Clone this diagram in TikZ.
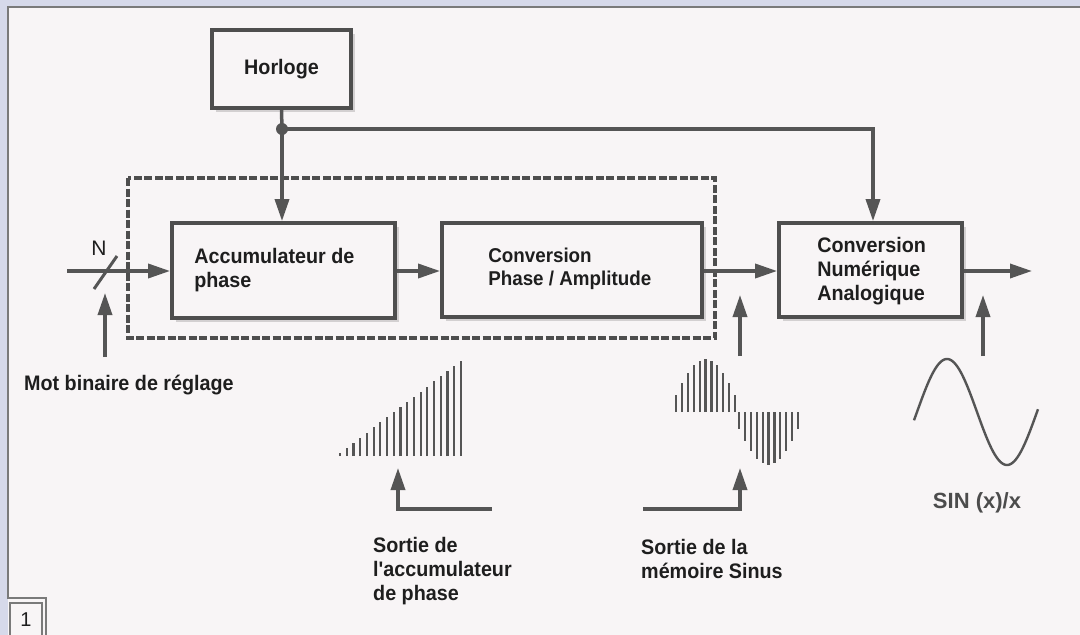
\documentclass[tikz,border=0pt]{standalone}
\usepackage{fontspec}
\setmainfont{Liberation Sans}
\newfontfamily\condf[FakeStretch=0.94]{Liberation Sans}
\usetikzlibrary{arrows.meta,shadows}
\definecolor{ln}{HTML}{555555}
\definecolor{bx}{HTML}{4E4E4E}
\definecolor{bg}{HTML}{F8F5F6}
\definecolor{lav}{HTML}{D6D9EA}
\definecolor{frm}{HTML}{7A7A7A}
\definecolor{txt}{HTML}{1E1E1E}
\begin{document}
\begin{tikzpicture}[x=1pt,y=-1pt,
  blk/.style={draw=bx, line width=3.8pt, fill=bg,
    drop shadow={shadow xshift=4pt, shadow yshift=-4pt, opacity=0.15, fill=black}},
  conn/.style={draw=ln, line width=3.5pt},
  arr/.style={conn, -{Triangle[length=22pt,width=14pt]}},
  lbl/.style={text=txt, font=\condf\fontsize{21}{24}\selectfont\bfseries, align=left, inner sep=0pt},
  bar/.style={draw=ln, line width=2.2pt},
  dashbox/.style={draw=bx, line width=4.5pt, dash pattern=on 8pt off 2.5pt}
]
\useasboundingbox (0,0) rectangle (1080,635);
% background and frame
\fill[lav] (0,0) rectangle (1080,635);
\fill[bg] (8,7) rectangle (1080,635);
\draw[frm, line width=1.2pt] (1080,7) -- (8,7) -- (8,598) -- (46,598) -- (46,635);
\draw[frm, line width=1.2pt] (10,636) -- (10,603) -- (42,603) -- (42,636);
\node[text=txt, font=\fontsize{20}{22}\selectfont] (fig) at (26,620) {1};

% dashed group
\draw[dashbox] (128,178) rectangle (715,338);

% blocks
\node[blk, minimum width=139pt, minimum height=78pt] (horloge) at (281.5,69) {};
\node[lbl] (horlogeT) at (horloge.center) {Horloge};
\node[blk, minimum width=223pt, minimum height=95pt] (accum) at (283.5,270.5) {};
\node[lbl, anchor=west] (accumT) at ([xshift=24pt]accum.west) {Accumulateur de\\phase};
\node[blk, minimum width=260pt, minimum height=94pt] (conv) at (572,270) {};
\node[lbl, anchor=west, font=\condf\fontsize{20}{23}\selectfont\bfseries] (convT) at ([xshift=48pt,yshift=1pt]conv.west) {Conversion\\Phase / Amplitude};
\node[blk, minimum width=183pt, minimum height=94pt] (cna) at (870.5,270) {};
\node[lbl, anchor=west] (cnaT) at ([xshift=40pt,yshift=-1pt]cna.west) {Conversion\\Numérique\\Analogique};

% clock distribution
\coordinate (dot) at (282,129);
\draw[conn] (horloge.south) -- (dot);
\draw[arr] (dot) -- (dot |- accum.north);
\coordinate (cnaIn) at (873,0);
\draw[arr] (dot) -| (cnaIn |- cna.north);
\fill[ln] (dot) circle (6pt);

% input
\coordinate (in) at (67,271);
\draw[arr] (in) -- (accum.west |- in);
\coordinate (sl1) at (94,289);
\coordinate (sl2) at (117,256);
\draw[conn, line width=3pt] (sl1) -- (sl2);
\node[text=txt, font=\fontsize{21}{22}\selectfont] (N) at (99,248) {N};
\coordinate (motA) at (105,357);
\coordinate (motT) at (105,293);
\draw[arr] (motA) -- (motT);
\node[lbl, anchor=west] (mot) at (24,385) {Mot binaire de réglage};

% chain
\draw[arr] (accum.east |- in) -- (conv.west |- in);
\draw[arr] (conv.east |- in) -- (cna.west |- in);
\coordinate (out) at (1032,271);
\draw[arr] (cna.east |- out) -- (out);

% upward arrows
\coordinate (u1a) at (740,356); \coordinate (u1t) at (740,295);
\draw[arr] (u1a) -- (u1t);
\coordinate (u2a) at (983,356); \coordinate (u2t) at (983,295);
\draw[arr] (u2a) -- (u2t);

% ramp waveform
\foreach \i in {0,...,18} {
  \pgfmathsetmacro{\xx}{340+\i*6.72}
  \pgfmathsetmacro{\hh}{3+\i*92/18}
  \draw[bar] (\xx,456) -- (\xx,456-\hh);
}
% sampled sine
\foreach \i in {0,...,10} {
  \pgfmathsetmacro{\xx}{676+\i*5.9}
  \pgfmathsetmacro{\hh}{53*sin(180*(\i+1.3)/12.6)}
  \draw[bar] (\xx,412) -- (\xx,412-\hh);
  \pgfmathsetmacro{\xn}{739+\i*5.9}
  \draw[bar] (\xn,412) -- (\xn,412+\hh);
}
% continuous sine
\draw[draw=ln, line width=2.4pt] plot[domain=914:1038, samples=90, smooth] (\x, {412-53*sin((\x-917)*3)});

% bottom arrows
\coordinate (r1a) at (492,509); \coordinate (r1t) at (398,468);
\draw[arr] (r1a) -| (r1t);
\coordinate (r2a) at (643,509); \coordinate (r2t) at (740,468);
\draw[arr] (r2a) -| (r2t);

% labels
\node[lbl, anchor=north west] (sacc) at (373,537) {Sortie de\\l'accumulateur\\de phase};
\node[lbl, anchor=north west] (smem) at (641,539) {Sortie de la\\mémoire Sinus};
\node[text=ln!90!black, font=\fontsize{22}{24}\selectfont\bfseries, inner sep=0pt] (sinx) at (977,503) {SIN (x)/x};
\end{tikzpicture}
\end{document}
